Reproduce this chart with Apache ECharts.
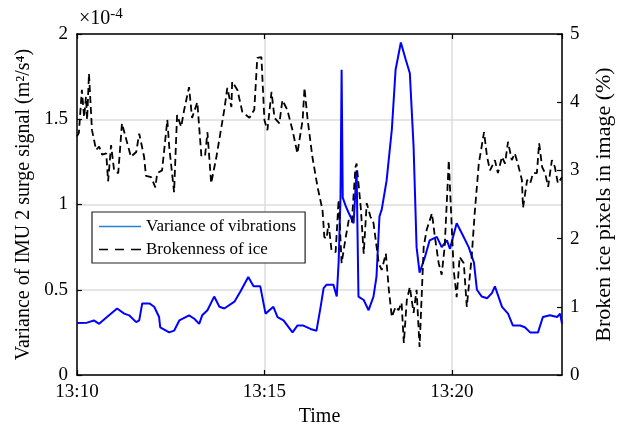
<!DOCTYPE html>
<html>
<head>
<meta charset="utf-8">
<script src="https://cdn.jsdelivr.net/npm/echarts@6/dist/echarts.min.js"></script>
<style>html,body{margin:0;padding:0;background:#fff}#c{width:620px;height:428px}</style>
</head>
<body>
<div id="c"></div>
<script>
// Minutes after 13:10
var varTime = [0,0.27,0.45,0.59,0.80,1.07,1.26,1.39,1.58,1.66,1.74,1.93,2.06,2.19,2.22,2.46,2.59,2.73,2.99,3.13,3.26,3.34,3.48,3.66,3.80,3.93,4.20,4.36,4.57,4.71,4.89,5.03,5.24,5.35,5.51,5.75,5.88,6.04,6.23,6.39,6.50,6.58,6.66,6.84,6.93,6.98,7.03,7.06,7.09,7.17,7.25,7.38,7.46,7.51,7.65,7.78,7.91,7.99,8.07,8.13,8.26,8.40,8.50,8.64,8.77,8.88,8.98,9.06,9.14,9.28,9.41,9.60,9.73,9.87,9.95,10.13,10.27,10.45,10.59,10.67,10.80,10.94,11.07,11.15,11.34,11.50,11.63,11.82,11.95,12.09,12.30,12.43,12.62,12.81,12.89,12.94];
// Variance of vibrations (x 1e-4 m^2/s^4)
var varValue = [0.305,0.307,0.32,0.30,0.34,0.39,0.36,0.35,0.31,0.32,0.42,0.42,0.40,0.34,0.28,0.25,0.26,0.32,0.35,0.33,0.30,0.35,0.38,0.46,0.40,0.39,0.43,0.49,0.575,0.52,0.52,0.36,0.40,0.34,0.32,0.25,0.29,0.29,0.27,0.26,0.40,0.51,0.53,0.53,0.46,0.66,1.04,1.79,1.04,0.99,0.95,0.89,1.20,0.46,0.44,0.38,0.46,0.575,0.93,0.97,1.14,1.44,1.79,1.95,1.85,1.77,1.34,0.75,0.60,0.69,0.79,0.81,0.75,0.79,0.74,0.89,0.83,0.75,0.66,0.50,0.46,0.45,0.48,0.52,0.40,0.36,0.29,0.29,0.28,0.25,0.25,0.34,0.35,0.34,0.36,0.30];
var iceTime = [0,0.05,0.13,0.19,0.24,0.27,0.32,0.37,0.40,0.51,0.59,0.67,0.78,0.83,0.91,0.99,1.10,1.20,1.34,1.44,1.58,1.66,1.79,1.84,1.98,2.09,2.14,2.27,2.41,2.46,2.59,2.67,2.78,2.86,2.99,3.07,3.21,3.32,3.42,3.48,3.58,3.72,3.93,4.01,4.12,4.14,4.28,4.41,4.60,4.73,4.81,4.92,5.00,5.08,5.19,5.27,5.40,5.48,5.61,5.75,5.88,6.02,6.07,6.15,6.28,6.42,6.55,6.60,6.66,6.71,6.79,6.90,6.98,7.06,7.17,7.25,7.33,7.43,7.46,7.57,7.65,7.73,7.83,7.91,8.05,8.13,8.24,8.32,8.40,8.50,8.58,8.66,8.72,8.80,8.88,8.98,9.06,9.14,9.25,9.33,9.47,9.55,9.65,9.73,9.81,9.92,9.95,10.05,10.13,10.21,10.32,10.40,10.53,10.61,10.72,10.86,10.94,11.02,11.15,11.23,11.34,11.42,11.50,11.60,11.68,11.76,11.87,11.90,12.01,12.09,12.17,12.27,12.33,12.41,12.49,12.57,12.67,12.75,12.83,12.94];
// Brokenness of ice (%)
var iceValue = [3.5,3.55,4.18,3.78,4.08,3.74,4.42,3.89,3.59,3.30,3.35,3.23,3.25,2.84,3.37,3.0,2.96,3.69,3.40,3.2,3.27,3.54,3.2,2.92,2.90,2.75,2.96,3.0,3.74,3.35,2.68,3.81,3.64,3.89,4.22,3.77,4.0,3.2,3.23,3.56,2.81,3.2,3.89,4.21,3.93,4.30,4.18,3.86,3.77,3.89,4.65,4.66,3.74,3.59,4.15,3.77,3.69,4.03,3.89,3.59,3.25,3.74,4.21,3.76,3.20,2.75,2.42,2.02,2.0,2.23,1.83,1.80,2.57,1.64,2.02,2.27,2.23,3.05,3.10,2.46,1.78,2.52,2.32,2.23,1.64,1.54,1.78,1.25,0.85,1.0,0.95,1.06,0.47,1.1,1.29,0.91,1.25,0.41,1.88,2.13,2.37,2.02,1.64,1.47,1.88,3.15,2.76,1.54,1.14,1.73,1.64,1.0,1.73,2.37,3.10,3.56,3.20,3.0,3.15,2.96,3.2,3.1,3.42,3.15,3.25,3.1,2.86,2.45,2.86,2.81,2.96,2.96,3.40,3.05,2.96,2.76,3.15,3.05,2.81,2.90];
var xTicks = ['13:10','13:15','13:20'];
var xMax = 12.94;

function pairs(a, b) { return a.map(function (t, i) { return [t, b[i]]; }); }

var FONT = 'Liberation Serif';
var chart = echarts.init(document.getElementById('c'), null, {renderer: 'canvas'});
var tickStyle = {show: true, inside: true, length: 5, lineStyle: {color: '#000', width: 1.2}};
chart.setOption({
  animation: false,
  backgroundColor: '#fff',
  textStyle: {fontFamily: FONT, color: '#000'},
  grid: {left: 77, right: 58, top: 34, bottom: 53, show: false, containLabel: false, outerBoundsMode: 'none'},
  legend: {
    left: 92, top: 212, orient: 'vertical',
    backgroundColor: '#fff', borderColor: '#222', borderWidth: 1.2,
    padding: [6, 9, 5, 7], itemGap: 6, itemWidth: 42, itemHeight: 14,
    textStyle: {fontFamily: FONT, fontSize: 17, color: '#000'},
    data: [
      {name: 'Variance of vibrations', icon: 'path://M0,0H42V1.6H0Z', itemStyle: {color: '#2b7fd0'}},
      {name: 'Brokenness of ice', icon: 'path://M0,0H9V1.6H0Z M16,0H25V1.6H16Z M32,0H42V1.6H32Z', itemStyle: {color: '#000'}}
    ]
  },
  xAxis: [{
    type: 'value', min: 0, max: xMax, interval: 5,
    name: 'Time', nameLocation: 'middle', nameGap: 31,
    nameTextStyle: {fontFamily: FONT, fontSize: 20, color: '#000'},
    axisLine: {show: true, onZero: false, lineStyle: {color: '#000', width: 1.5}},
    axisTick: tickStyle,
    axisLabel: {fontFamily: FONT, fontSize: 19, color: '#000', margin: 8, showMaxLabel: false,
      formatter: function (v) { return xTicks[Math.round(v / 5)] || ''; }},
    splitLine: {show: true, lineStyle: {color: '#dcdcdc', width: 1.5}}
  }, {
    type: 'value', min: 0, max: xMax, interval: 5, position: 'top',
    axisLine: {show: true, onZero: false, lineStyle: {color: '#000', width: 1.5}},
    axisLabel: {show: false}, splitLine: {show: false},
    axisTick: tickStyle
  }],
  yAxis: [{
    type: 'value', min: 0, max: 2, interval: 0.5, position: 'left',
    name: 'Variance of IMU 2 surge signal (m\u00B2/s\u2074)', nameLocation: 'middle', nameGap: 43,
    nameTextStyle: {fontFamily: FONT, fontSize: 20, color: '#000'},
    axisLine: {show: true, onZero: false, lineStyle: {color: '#000', width: 1.5}},
    axisTick: tickStyle,
    axisLabel: {fontFamily: FONT, fontSize: 19, color: '#000', margin: 9},
    splitLine: {show: true, lineStyle: {color: '#dcdcdc', width: 1.5}}
  }, {
    type: 'value', min: 0, max: 5, interval: 1, position: 'right',
    name: 'Broken ice pixels in image (%)', nameLocation: 'middle', nameGap: 31, nameRotate: 90,
    nameTextStyle: {fontFamily: FONT, fontSize: 22, color: '#000'},
    axisLine: {show: true, onZero: false, lineStyle: {color: '#000', width: 1.5}},
    axisTick: tickStyle,
    axisLabel: {fontFamily: FONT, fontSize: 19, color: '#000', margin: 8},
    splitLine: {show: false}
  }],
  graphic: [{
    type: 'text', left: 79, top: 7,
    style: {text: '\u00D710{s|-4}', fontFamily: FONT, fontSize: 20, fill: '#000',
      rich: {s: {fontFamily: FONT, fontSize: 15, fill: '#000', verticalAlign: 'top', padding: [0, 0, 9, 0]}}}
  }],
  series: [{
    name: 'Variance of vibrations', type: 'line', xAxisIndex: 0, yAxisIndex: 0,
    data: pairs(varTime, varValue), symbol: 'none', z: 2,
    lineStyle: {color: '#0000ff', width: 2}, itemStyle: {color: '#0000ff'}
  }, {
    name: 'Brokenness of ice', type: 'line', xAxisIndex: 0, yAxisIndex: 1,
    data: pairs(iceTime, iceValue), symbol: 'none', z: 3,
    lineStyle: {color: '#000', width: 1.8, type: [7, 4]}, itemStyle: {color: '#000'}
  }]
});
</script>
</body>
</html>
